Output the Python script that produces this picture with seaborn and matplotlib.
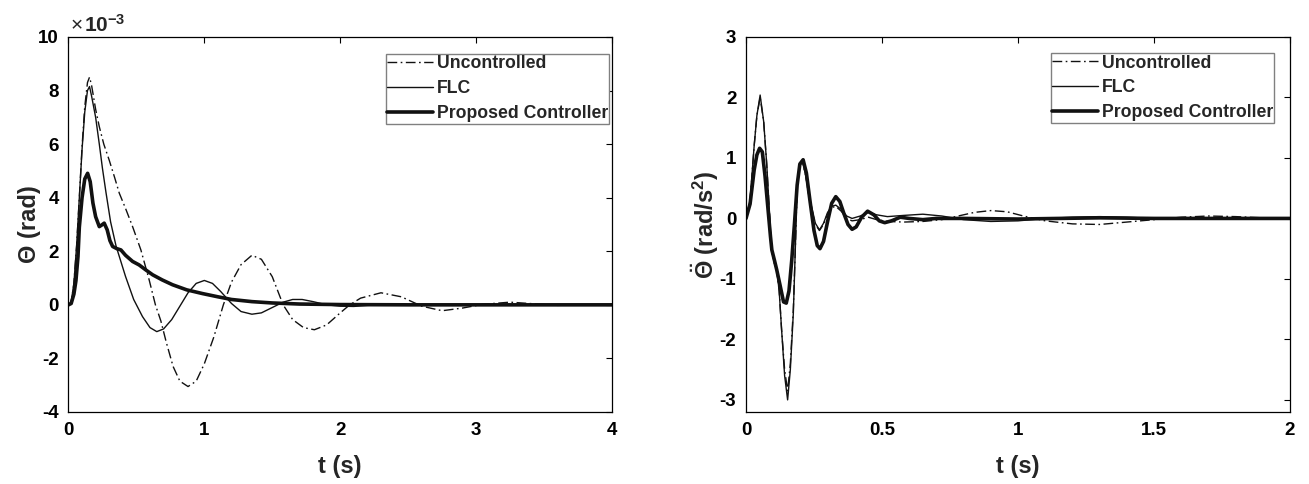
import matplotlib
matplotlib.use("Agg")
import matplotlib.pyplot as plt
import seaborn as sns
import numpy as np

# ---------------- data ----------------
# Left panel: angle Theta (x 1e-3 rad) vs time (s)
t_unc_L = [0, 0.02, 0.04, 0.06, 0.08, 0.10, 0.12, 0.14, 0.155, 0.17, 0.20, 0.227, 0.26, 0.30,
           0.34, 0.374, 0.42, 0.472, 0.533, 0.594, 0.64, 0.68, 0.72, 0.77, 0.82, 0.88, 0.94,
           1.00, 1.07, 1.14, 1.20, 1.27, 1.35, 1.42, 1.50, 1.58, 1.65, 1.73, 1.81, 1.90, 2.00,
           2.07, 2.15, 2.30, 2.45, 2.60, 2.75, 2.90, 3.05, 3.25, 3.45, 3.60, 3.80, 4.00]
y_unc_L = [0, 0.1, 0.8, 2.2, 4.0, 5.9, 7.4, 8.3, 8.5, 8.2, 7.3, 6.65, 6.0, 5.4,
           4.75, 4.17, 3.6, 2.92, 2.05, 0.93, 0.0, -0.6, -1.4, -2.3, -2.85, -3.05, -2.85,
           -2.2, -1.2, 0.0, 0.85, 1.5, 1.85, 1.7, 1.05, 0.0, -0.55, -0.85, -0.93, -0.75, -0.3,
           0.0, 0.25, 0.45, 0.3, -0.05, -0.22, -0.12, 0.02, 0.1, 0.03, -0.02, 0.0, 0.0]

t_flc_L = [0, 0.02, 0.04, 0.06, 0.08, 0.10, 0.12, 0.14, 0.155, 0.17, 0.20, 0.227, 0.25, 0.276,
           0.31, 0.35, 0.42, 0.48, 0.545, 0.60, 0.65, 0.70, 0.76, 0.82, 0.88, 0.94, 1.00, 1.06,
           1.12, 1.20, 1.27, 1.35, 1.42, 1.50, 1.58, 1.65, 1.72, 1.80, 1.90, 2.00, 2.10, 2.20,
           2.40, 2.60, 3.00, 4.00]
y_flc_L = [0, 0.1, 0.8, 2.2, 4.0, 5.8, 7.2, 8.0, 8.15, 7.8, 7.0, 6.0, 5.1, 4.2,
           3.1, 2.2, 1.06, 0.2, -0.44, -0.85, -1.0, -0.9, -0.55, -0.05, 0.45, 0.8, 0.91, 0.8,
           0.5, 0.05, -0.25, -0.35, -0.3, -0.1, 0.1, 0.2, 0.2, 0.12, 0.0, -0.05, -0.06, -0.02,
           0.02, 0.01, 0.0, 0.0]

t_pro_L = [0, 0.02, 0.04, 0.055, 0.07, 0.08, 0.10, 0.12, 0.141, 0.16, 0.18, 0.20, 0.227, 0.245,
           0.263, 0.285, 0.305, 0.325, 0.355, 0.386, 0.42, 0.472, 0.52, 0.57, 0.62, 0.69, 0.766,
           0.87, 0.987, 1.10, 1.20, 1.35, 1.50, 1.70, 2.00, 2.50, 3.00, 4.00]
y_pro_L = [0, 0.05, 0.4, 0.9, 1.8, 2.9, 4.0, 4.7, 4.91, 4.6, 3.8, 3.29, 2.92, 2.98,
           3.05, 2.8, 2.4, 2.18, 2.1, 2.05, 1.85, 1.62, 1.49, 1.3, 1.12, 0.93, 0.75,
           0.56, 0.42, 0.3, 0.2, 0.12, 0.07, 0.03, 0.01, 0.0, 0.0, 0.0]

# Right panel: angular acceleration (rad/s^2) vs time (s)
t_unc_R = [0, 0.015, 0.03, 0.04, 0.052, 0.065, 0.076, 0.085, 0.094, 0.105, 0.113, 0.122, 0.131,
           0.142, 0.153, 0.163, 0.174, 0.182, 0.189, 0.198, 0.208, 0.22, 0.232, 0.242, 0.255,
           0.27, 0.285, 0.30, 0.315, 0.33, 0.35, 0.37, 0.39, 0.42, 0.45, 0.48, 0.52, 0.58, 0.65,
           0.72, 0.78, 0.84, 0.90, 0.96, 1.02, 1.10, 1.20, 1.30, 1.40, 1.50, 1.60, 1.70, 1.80,
           1.90, 2.00]
y_unc_R = [0, 0.3, 1.2, 1.7, 2.0, 1.6, 0.91, 0.2, -0.52, -0.75, -0.85, -1.2, -1.85,
           -2.5, -2.85, -2.4, -1.5, -0.4, 0.6, 0.88, 0.94, 0.7, 0.35, 0.15, -0.1,
           -0.2, -0.1, 0.08, 0.18, 0.2, 0.12, 0.0, -0.04, -0.02, 0.02, -0.02, -0.05, -0.06, -0.05,
           -0.02, 0.04, 0.1, 0.13, 0.11, 0.04, -0.04, -0.09, -0.1, -0.06, -0.02, 0.02, 0.04, 0.03,
           0.01, 0.0]

t_flc_R = [0, 0.015, 0.03, 0.04, 0.052, 0.065, 0.076, 0.085, 0.094, 0.105, 0.113, 0.122, 0.131,
           0.142, 0.153, 0.163, 0.174, 0.182, 0.189, 0.198, 0.208, 0.22, 0.232, 0.242, 0.255,
           0.27, 0.285, 0.30, 0.315, 0.33, 0.35, 0.37, 0.39, 0.42, 0.45, 0.48, 0.52, 0.58, 0.65,
           0.72, 0.80, 0.90, 1.00, 1.10, 1.20, 1.30, 1.40, 1.50, 1.70, 2.00]
y_flc_R = [0, 0.3, 1.2, 1.7, 2.04, 1.6, 0.91, 0.2, -0.52, -0.75, -0.85, -1.2, -1.85,
           -2.6, -3.0, -2.5, -1.57, -0.4, 0.63, 0.88, 0.94, 0.7, 0.35, 0.18, -0.08,
           -0.19, -0.08, 0.1, 0.2, 0.22, 0.15, 0.04, 0.0, 0.04, 0.1, 0.06, 0.03, 0.05, 0.07,
           0.04, -0.02, -0.05, -0.04, 0.0, 0.02, 0.03, 0.02, 0.0, 0.0, 0.0]

t_pro_R = [0, 0.015, 0.03, 0.04, 0.05, 0.06, 0.07, 0.08, 0.09, 0.095, 0.105, 0.113, 0.125, 0.138,
           0.148, 0.158, 0.168, 0.178, 0.188, 0.198, 0.21, 0.222, 0.235, 0.25, 0.262, 0.272,
           0.285, 0.30, 0.315, 0.33, 0.345, 0.36, 0.375, 0.39, 0.405, 0.425, 0.447, 0.47, 0.49,
           0.51, 0.535, 0.567, 0.60, 0.65, 0.70, 0.80, 1.00, 1.30, 1.50, 2.00]
y_pro_R = [0, 0.24, 0.8, 1.05, 1.16, 1.1, 0.7, 0.2, -0.3, -0.52, -0.7, -0.85, -1.1, -1.38,
           -1.40, -1.2, -0.7, -0.1, 0.55, 0.9, 0.97, 0.75, 0.3, -0.2, -0.45, -0.5,
           -0.38, -0.05, 0.25, 0.36, 0.28, 0.08, -0.1, -0.18, -0.14, 0.02, 0.12, 0.06, -0.04,
           -0.07, -0.04, 0.02, 0.0, -0.02, 0.0, 0.0, -0.01, 0.01, 0.0, 0.0]

labels = ["Uncontrolled", "FLC", "Proposed Controller"]
left_xticks = [0, 1, 2, 3, 4]
left_yticks = [-4, -2, 0, 2, 4, 6, 8, 10]
right_xticks = [0, 0.5, 1, 1.5, 2]
right_yticks = [-3, -2, -1, 0, 1, 2, 3]

# ---------------- style ----------------
sns.set_theme(style="white")
plt.rcParams["font.family"] = ["Liberation Sans", "DejaVu Sans"]
plt.rcParams["font.weight"] = "bold"
plt.rcParams["axes.labelweight"] = "bold"
plt.rcParams["mathtext.fontset"] = "custom"
plt.rcParams["mathtext.rm"] = "Liberation Sans:bold"
plt.rcParams["mathtext.it"] = "Liberation Sans:bold"
plt.rcParams["mathtext.bf"] = "Liberation Sans:bold"
plt.rcParams["axes.edgecolor"] = "black"
plt.rcParams["axes.linewidth"] = 0.9

fig = plt.figure(figsize=(13.09, 4.84), dpi=100)
axL = fig.add_axes([0.0523, 0.1488, 0.4152, 0.7748])
axR = fig.add_axes([0.5699, 0.1488, 0.4156, 0.7748])

dashdot = (0, (7, 2.5, 1.2, 2.5))
col = "#111111"

def draw(ax, tu, yu, tf, yf, tp, yp):
    sns.lineplot(x=tu, y=yu, ax=ax, color=col, lw=1.0, linestyle=dashdot,
                 label=labels[0], sort=False, estimator=None)
    sns.lineplot(x=tf, y=yf, ax=ax, color=col, lw=1.0, label=labels[1],
                 sort=False, estimator=None)
    sns.lineplot(x=tp, y=yp, ax=ax, color=col, lw=2.6, label=labels[2],
                 sort=False, estimator=None)

draw(axL, t_unc_L, y_unc_L, t_flc_L, y_flc_L, t_pro_L, y_pro_L)
draw(axR, t_unc_R, y_unc_R, t_flc_R, y_flc_R, t_pro_R, y_pro_R)

axL.set_xlim(0, 4)
axL.set_ylim(-4, 10)
axL.set_xticks(left_xticks)
axL.set_xticklabels([f"{v:g}" for v in left_xticks])
axL.set_yticks(left_yticks)
axL.set_yticklabels([f"{v:g}" for v in left_yticks])
axL.set_xlabel("t (s)", fontsize=17, labelpad=12)
axL.set_ylabel("Θ (rad)", fontsize=17, labelpad=-2)
axL.text(0.003, 1.014, "×", transform=axL.transAxes, fontsize=15,
         fontweight="normal", ha="left", va="baseline")
axL.text(0.028, 1.014, r"10$^{-3}$", transform=axL.transAxes,
         fontsize=15, ha="left", va="baseline")

axR.set_xlim(0, 2)
axR.set_ylim(-3.2, 3)
axR.set_xticks(right_xticks)
axR.set_xticklabels([f"{v:g}" for v in right_xticks])
axR.set_yticks(right_yticks)
axR.set_yticklabels([f"{v:g}" for v in right_yticks])
axR.set_xlabel("t (s)", fontsize=17, labelpad=12)
axR.set_ylabel(r"$\ddot{\Theta}$ (rad/s$^2$)", fontsize=17, labelpad=-1)

for ax, anchor in [(axL, (0.995, 0.955)), (axR, (0.971, 0.957))]:
    for s in ax.spines.values():
        s.set_visible(True)
        s.set_color("black")
        s.set_linewidth(0.9)
    ax.tick_params(axis="both", which="both", direction="in", length=4.3, width=0.8,
                   top=True, right=True, labelsize=13.5, pad=7, colors="black")
    leg = ax.legend(loc="upper right", bbox_to_anchor=anchor, borderaxespad=0,
                    fontsize=12.7, frameon=True, fancybox=False, framealpha=1,
                    edgecolor="#808080", handlelength=2.6, handletextpad=0.2,
                    borderpad=0.08, labelspacing=0.45)
    leg.get_frame().set_linewidth(1.0)
    for txt in leg.get_texts():
        txt.set_fontweight("bold")

fig.savefig("out.png", dpi=100)
